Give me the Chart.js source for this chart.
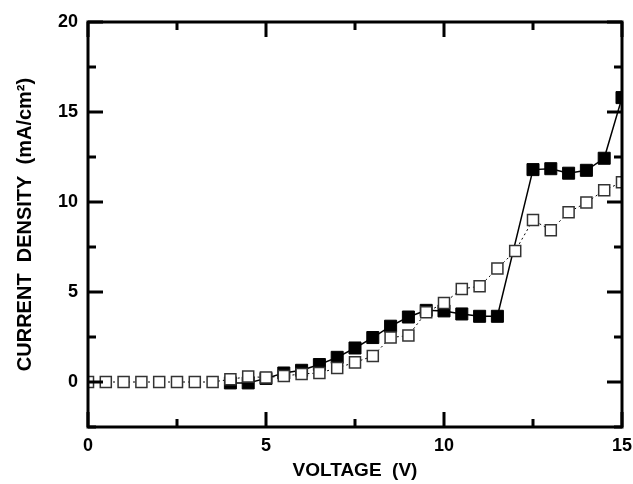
<!DOCTYPE html>
<html>
<head>
<meta charset="utf-8">
<script src="https://cdn.jsdelivr.net/npm/chart.js@4"></script>
<style>
  body { margin: 0; background: #fff; }
  canvas { display: block; }
</style>
</head>
<body>
<canvas id="chart" width="633" height="484"></canvas>
<script>
const openVoltage = [0, 0.5, 1, 1.5, 2, 2.5, 3, 3.5, 4, 4.5, 5, 5.5, 6, 6.5, 7, 7.5,
  8, 8.5, 9, 9.5, 10, 10.5, 11, 11.5, 12, 12.5, 13, 13.5, 14, 14.5, 15];
const openDensity = [0, 0, 0, 0, 0, 0, 0, 0, 0.15, 0.3, 0.25, 0.33, 0.45, 0.5, 0.78, 1.09,
  1.44, 2.47, 2.58, 3.87, 4.39, 5.17, 5.32, 6.3, 7.28, 9.0, 8.43, 9.43, 9.97, 10.65, 11.1];

const filledVoltage = [4, 4.5, 5, 5.5, 6, 6.5, 7, 7.5, 8, 8.5, 9, 9.5, 10, 10.5, 11, 11.5,
  12.5, 13, 13.5, 14, 14.5, 15];
const filledDensity = [-0.05, -0.05, 0.2, 0.5, 0.65, 0.97, 1.37, 1.89, 2.47, 3.1, 3.61, 3.98,
  3.95, 3.78, 3.65, 3.65, 11.8, 11.85, 11.6, 11.76, 12.43, 15.8];

const xTitle = 'VOLTAGE  (V)';
const yTitle = 'CURRENT  DENSITY  (mA/cm\u00B2)';

const family = "'Liberation Sans', Arial, sans-serif";
const tickFont = { family: family, weight: 'bold', size: 18 };

const toPoints = (xs, ys) => xs.map((x, i) => ({ x: x, y: ys[i] }));

// frame + inward ticks on all four sides
const frameTicks = {
  id: 'frameTicks',
  afterDatasetsDraw(chart) {
    const { ctx, chartArea: a, scales } = chart;
    ctx.save();
    ctx.strokeStyle = '#000';
    ctx.lineWidth = 3;
    ctx.lineCap = 'butt';
    ctx.beginPath();
    scales.x.ticks.forEach(t => {
      const px = Math.round(scales.x.getPixelForValue(t.value));
      const len = t.value % 5 === 0 ? 15 : 8;
      ctx.moveTo(px, a.bottom); ctx.lineTo(px, a.bottom - len);
      ctx.moveTo(px, a.top); ctx.lineTo(px, a.top + len);
    });
    scales.y.ticks.forEach(t => {
      const py = Math.round(scales.y.getPixelForValue(t.value));
      const len = t.value % 5 === 0 ? 15 : 8;
      ctx.moveTo(a.left, py); ctx.lineTo(a.left + len, py);
      ctx.moveTo(a.right, py); ctx.lineTo(a.right - len, py);
    });
    ctx.stroke();
    ctx.strokeRect(a.left, a.top, a.right - a.left, a.bottom - a.top);
    ctx.restore();
  }
};

new Chart(document.getElementById('chart'), {
  type: 'line',
  data: {
    datasets: [
      {
        label: 'open',
        data: toPoints(openVoltage, openDensity),
        borderColor: '#000',
        borderWidth: 1,
        borderDash: [2, 3],
        pointStyle: 'rect',
        pointRadius: 7.8,
        pointBorderWidth: 1.5,
        pointBorderColor: '#333',
        pointBackgroundColor: '#fff',
        tension: 0,
        clip: 0
      },
      {
        label: 'filled',
        data: toPoints(filledVoltage, filledDensity),
        borderColor: '#000',
        borderWidth: 1.5,
        pointStyle: 'rect',
        pointRadius: 8.5,
        pointBorderWidth: 1,
        pointBorderColor: '#000',
        pointBackgroundColor: '#000',
        tension: 0,
        clip: 0
      }
    ]
  },
  options: {
    responsive: false,
    animation: false,
    devicePixelRatio: 1,
    layout: { padding: { top: 22, right: 11, left: 0, bottom: 0 } },
    plugins: { legend: { display: false }, tooltip: { enabled: false } },
    scales: {
      x: {
        type: 'linear',
        min: 0,
        max: 15,
        grid: { display: false, drawTicks: false },
        border: { display: false },
        ticks: {
          stepSize: 2.5,
          autoSkip: false,
          maxRotation: 0,
          padding: 8,
          color: '#000',
          font: tickFont,
          callback: v => (v % 5 === 0 ? v : '')
        },
        title: {
          display: true, text: xTitle, color: '#000',
          font: { family: family, weight: 'bold', size: 19 },
          padding: { top: 4, bottom: 2 }
        },
        afterFit: s => { s.height = 57; s.paddingLeft = 0; s.paddingRight = 0; }
      },
      y: {
        type: 'linear',
        min: -2.5,
        max: 20,
        grid: { display: false, drawTicks: false },
        border: { display: false },
        ticks: {
          stepSize: 2.5,
          autoSkip: false,
          padding: 10,
          color: '#000',
          font: tickFont,
          callback: v => (v % 5 === 0 && v >= 0 ? v : '')
        },
        title: {
          display: true, text: yTitle, color: '#000',
          font: { family: family, weight: 'bold', size: 20 },
          padding: { top: 13, bottom: 4 }
        },
        afterFit: s => { s.width = 88; s.paddingTop = 0; s.paddingBottom = 0; }
      }
    }
  },
  plugins: [frameTicks]
});
</script>
</body>
</html>
